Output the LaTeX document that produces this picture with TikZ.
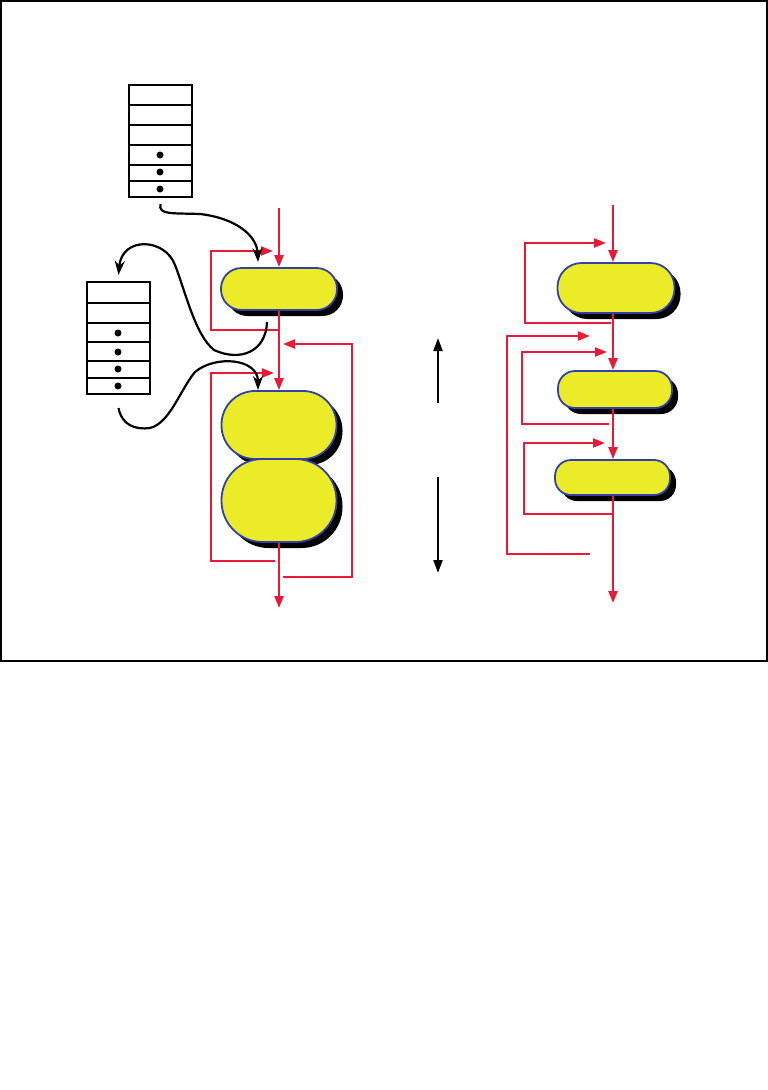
\documentclass[tikz,border=0pt]{standalone}
\usepackage{xcolor}
\usepackage{tikz}
\usetikzlibrary{arrows.meta, shadows}

\definecolor{flowred}{RGB}{232,26,56}
\definecolor{pillfill}{RGB}{235,235,40}
\definecolor{pillline}{RGB}{50,64,170}

\begin{document}
\begin{tikzpicture}[
    x=1pt, y=-1pt,
    pill/.style={
        draw=pillline,
        line width=1.8pt,
        fill=pillfill,
        inner sep=0pt,
        drop shadow={shadow xshift=6pt, shadow yshift=-6pt, fill=black, opacity=1}
    },
    stack/.style={
        draw,
        line width=2.2pt,
        inner sep=0pt,
        minimum width=63pt,
        minimum height=112pt
    },
    flow/.style={draw=flowred, line width=2.3pt, -{Triangle[length=12pt,width=9pt]}},
    fback/.style={draw=flowred, line width=2.1pt, -{Triangle[length=12pt,width=9pt]}},
    ptr/.style={draw, line width=2.2pt, -{Stealth[length=14pt,width=10pt]}},
    dirarrow/.style={draw, line width=2.2pt, -{Triangle[length=13pt,width=9pt]}}
]

\useasboundingbox (0,0) rectangle (768,1090);
\draw[line width=1.3pt] (1,1) rectangle (767,661);

% stacks
\node[stack] (stackA) at (160.5,141) {};
\draw[line width=2.2pt] (129,105) -- (192,105);
\draw[line width=2.2pt] (129,125) -- (192,125);
\draw[line width=2.2pt] (129,145) -- (192,145);
\draw[line width=2.2pt] (129,165) -- (192,165);
\draw[line width=2.2pt] (129,181) -- (192,181);
\fill (160,155) circle (3.5);
\fill (160,172) circle (3.5);
\fill (160,189) circle (3.5);

\node[stack] (stackB) at (118.5,338) {};
\draw[line width=2.2pt] (87,303) -- (150,303);
\draw[line width=2.2pt] (87,323) -- (150,323);
\draw[line width=2.2pt] (87,342) -- (150,342);
\draw[line width=2.2pt] (87,361) -- (150,361);
\draw[line width=2.2pt] (87,378) -- (150,378);
\fill (118,333) circle (3.5);
\fill (118,352) circle (3.5);
\fill (118,369) circle (3.5);
\fill (118,386) circle (3.5);

% left column
\node[pill, minimum width=116pt, minimum height=42pt, rounded corners=20.5pt] (p1) at (279,289) {};
\node[pill, minimum width=115pt, minimum height=68pt, rounded corners=33.5pt] (p2a) at (279,425) {};
\node[pill, minimum width=115pt, minimum height=83pt, rounded corners=41pt] (p2b) at (279,500.5) {};

\coordinate (inL) at (279,208);
\coordinate (outL) at (279,608);
\draw[flow] (inL) -- (p1.north);
\draw[flow] (p1.south) -- (p2a.north);
\draw[flow] (p2b.south) -- (outL);

\coordinate (tapA) at (279,330);
\coordinate (retA) at (273,251);
\draw[fback] (tapA) -- (211,330) |- (retA);
\coordinate (tapB) at (283,577);
\coordinate (retB) at (283,344);
\draw[fback] (tapB) -- (352,577) |- (retB);
\coordinate (tapC) at (275,561);
\coordinate (retC) at (274,373);
\draw[fback] (tapC) -- (211,561) |- (retC);

% pointers between stacks and pills
\coordinate (endA) at (258,262);
\draw[ptr] ([yshift=-6pt]stackA.south) .. controls (158,215) and (172,213) .. (200,214)
    .. controls (235,218) and (257,235) .. (endA);
\draw[ptr] (267,322) .. controls (266,352) and (240,362) .. (214,350)
    .. controls (195,335) and (185,290) .. (175,265)
    .. controls (165,238) and (122,236) .. ([yshift=6pt]stackB.north);
\coordinate (endC) at (258,390);
\draw[ptr] ([yshift=-13pt]stackB.south) .. controls (122,425) and (135,430) .. (150,428)
    .. controls (170,423) and (180,390) .. (195,372)
    .. controls (215,355) and (258,358) .. (endC);

% direction arrows
\coordinate (upS) at (438,403);
\coordinate (upE) at (438,338);
\coordinate (dnS) at (438,477);
\coordinate (dnE) at (438,573);
\draw[dirarrow] (upS) -- (upE);
\draw[dirarrow] (dnS) -- (dnE);

% right column
\node[pill, minimum width=117pt, minimum height=50pt, rounded corners=24pt] (r1) at (616,288) {};
\node[pill, minimum width=114pt, minimum height=37pt, rounded corners=17pt] (r2) at (615,389.5) {};
\node[pill, minimum width=115pt, minimum height=35pt, rounded corners=16pt] (r3) at (612.5,477.5) {};

\coordinate (inR) at (613,205);
\coordinate (outR) at (613,603);
\draw[flow] (inR) -- (inR |- r1.north);
\draw[flow] (inR |- r1.south) -- (inR |- r2.north);
\draw[flow] (inR |- r2.south) -- (inR |- r3.north);
\draw[flow] (inR |- r3.south) -- (outR);

\coordinate (tapR1) at (611,323);
\coordinate (retR1) at (606,243);
\draw[fback] (tapR1) -- (525,323) |- (retR1);
\coordinate (tapR0) at (590,554);
\coordinate (retR0) at (590,336);
\draw[fback] (tapR0) -- (507,554) |- (retR0);
\coordinate (tapR2) at (609,424);
\coordinate (retR2) at (607,352);
\draw[fback] (tapR2) -- (522,424) |- (retR2);
\coordinate (tapR3) at (613,514);
\coordinate (retR3) at (605,443);
\draw[fback] (tapR3) -- (524,514) |- (retR3);

\end{tikzpicture}
\end{document}
